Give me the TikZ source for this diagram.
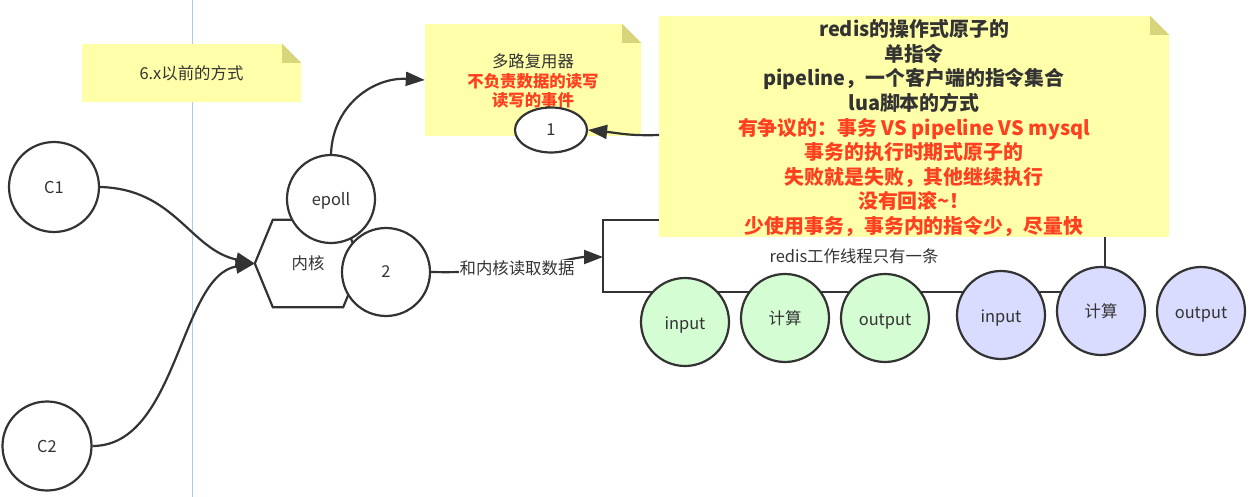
\documentclass[tikz,border=0pt]{standalone}
\usepackage{fontspec}
\setmainfont{Noto Sans CJK SC}
\usepackage{xcolor}
\usetikzlibrary{shapes.geometric,arrows.meta}
\definecolor{noteyellow}{HTML}{FFFFAA}
\definecolor{foldyellow}{HTML}{D8D67C}
\definecolor{inkgray}{HTML}{333333}
\definecolor{hotred}{HTML}{FF4020}
\definecolor{softgreen}{HTML}{D5FDD3}
\definecolor{softblue}{HTML}{D9DBFF}
\definecolor{guideblue}{HTML}{A9CDEB}

\begin{document}
\begin{tikzpicture}[x=1pt,y=-1pt,%
		   every node/.style={text=inkgray,font=\fontsize{16.4}{20}\selectfont},
		   wire/.style={draw=inkgray,line width=2.2pt},
		   flow/.style={wire,-{Triangle[length=19pt,width=14pt]}},
		   note/.style={fill=noteyellow,inner sep=0pt,align=center},
		   round/.style={draw=inkgray,line width=2.2pt,fill=white,circle,minimum size=88pt,inner sep=0pt},
		   worker/.style={round,ellipse,minimum width=88pt,minimum height=88pt}]

	    \useasboundingbox (0,0) rectangle (1253,497);
	    \draw[guideblue,line width=0.8pt] (192.5,0) -- (192.5,497);

	    % line under the notes and the workers
	    \coordinate (rect-start) at (659,220);
	    \coordinate (rect-top) at (603,220);
	    \coordinate (rect-bottom) at (603,292);
	    \coordinate (rect-end) at (1105,237);
	    \coordinate (rect-in) at (603,257);
	    \draw[wire] (rect-start) -- (rect-top) -- (rect-bottom) -| (rect-end);

	    \foreach \name/\x/\y/\w/\h in {%
	       note-a/191.5/73/219/58,%
	       note-b/533/80/216/112,%
	       note-c/914/126.5/510/221%
	       } { \node[note,minimum width=\w pt,minimum height=\h pt](\name) at (\x,\y) {};
		   \fill[white] (\name.north east) -- ++(-19,0) -- ++(19,19) -- cycle;
		   \fill[foldyellow] (\name.north east) ++(-19,0) -- ++(19,19) -- ++(-19,0) -- cycle;
	       }

	    \node at (note-a) {6.x以前的方式};
	    \node[align=center] at (533,81) {多路复用器\\[-0.5pt]
	       \textcolor{hotred}{\textbf{不负责数据的读写}}\\[-1pt]
	       \textcolor{hotred}{\textbf{读写的事件}}};
	    \node[align=center,font=\fontsize{19.9}{24.6}\selectfont] at (914,128) {\textbf{redis的操作式原子的}\\
	       \textbf{单指令}\\
	       \textbf{pipeline，一个客户端的指令集合}\\
	       \textbf{lua脚本的方式}\\
	       \textcolor{hotred}{\textbf{有争议的：事务 VS pipeline VS mysql}}\\
	       \textcolor{hotred}{\textbf{事务的执行时期式原子的}}\\
	       \textcolor{hotred}{\textbf{失败就是失败，其他继续执行}}\\
	       \textcolor{hotred}{\textbf{没有回滚\textasciitilde！}}\\
	       \textcolor{hotred}{\textbf{少使用事务，事务内的指令少，尽量快}}};

	    \node[round,minimum size=90pt](c-one) at (54,187) {C1};
	    \node[round,minimum size=89pt](c-two) at (47,446) {C2};
	    \node[minimum width=106pt,minimum height=87pt,inner sep=0pt](kernel) at (308,263.5) {内核};
	    \draw[wire] (kernel.west) -- ([xshift=18pt]kernel.north west) -- ([xshift=-18pt]kernel.north east) -- (kernel.east) -- ([xshift=-18pt]kernel.south east) -- ([xshift=18pt]kernel.south west) -- cycle;
	    \node[round](epoll) at (331,199) {\raisebox{0pt}[13pt][0pt]{epoll}};
	    \node[round](two) at (386,272) {2};
	    \node[round,ellipse,minimum width=72pt,minimum height=45pt](one) at (551,130) {1};

	    \foreach \name/\txt/\x/\y/\col in {%
	       in-a/\raisebox{0pt}[15pt][0pt]{input}/685/322/softgreen,%
	       calc-a/计算/785/318/softgreen,%
	       out-a/\raisebox{0pt}[15pt][0pt]{output}/885/318/softgreen,%
	       in-b/\raisebox{0pt}[15pt][0pt]{input}/1001/315/softblue,%
	       calc-b/计算/1101/311/softblue,%
	       out-b/\raisebox{0pt}[15pt][0pt]{output}/1201/311/softblue%
	       } { \node[worker,fill=\col](\name) at (\x,\y) {\txt};
	       }

	    \node (thread) at (854,256) {redis工作线程只有一条};

	    \draw[flow] (c-one.east) .. controls +(75,2) and +(-65,-14) .. (kernel.west);
	    \draw[flow] (c-two.east) .. controls +(85,0) and +(-75,12) .. (kernel.west);
	    \draw[flow] (epoll.north) .. controls +(2,-50) and +(-50,-3) .. (note-b.west);
	    \coordinate (note-out) at (659,135);
	    \draw[flow] (note-out) .. controls +(-30,1) and +(30,3) .. (one.east);
	    \draw[flow] (two.east) .. controls +(90,2) and +(-30,0) .. (rect-in);
	    \node[fill=white,inner sep=0.5pt](read) at (517,268) {和内核读取数据};
	\end{tikzpicture}
\end{document}
